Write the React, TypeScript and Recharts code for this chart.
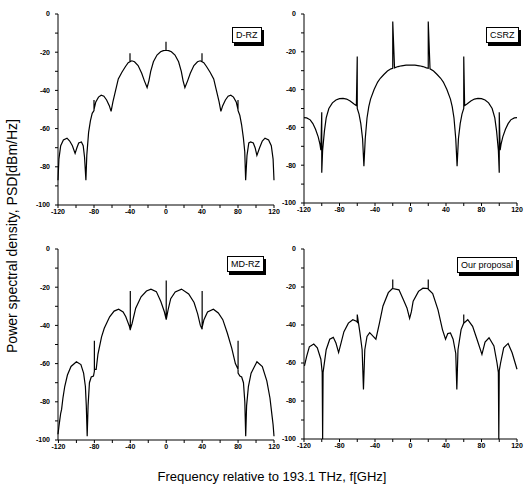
import React from 'react';
import { LineChart, Line, XAxis, YAxis } from 'recharts';

// frequency offsets (GHz) and PSD (dBm/Hz)
const drzFreq = [
  -120, -119, -117, -114, -110, -107, -104, -101, -99, -97, -94, -92, -90.5, -89, -88, -86, -84, -82, -80, -80, -80,
  -78, -75, -72, -69, -66, -63, -61, -59, -56, -53, -49, -45, -42, -40, -40, -40, -38, -35, -31, -27, -24, -21, -19,
  -17, -14, -10, -6, -3, 0, 0, 0, 3, 6, 10, 14, 17, 19, 21, 24, 27, 31, 35, 38, 40, 40, 40, 42, 45, 49, 53, 56, 59,
  61, 63, 66, 69, 72, 75, 78, 80, 80, 80, 82, 84, 86, 87.5, 88.5, 90, 92, 94, 97, 99, 101, 104, 107, 110, 114, 117,
  119, 120,
];
const drzPsd = [
  -87, -76, -69, -66, -65, -66.5, -69, -73, -70, -67.5, -67, -69, -75, -87, -74, -62, -56, -52, -50.5, -45, -50,
  -46, -43.5, -42.5, -43, -45, -48, -51, -46, -40, -34, -30.5, -27.5, -25.5, -25, -20.5, -25, -24.5, -25, -27, -31,
  -35, -38.5, -35, -30, -25, -21.5, -19.8, -19.2, -19, -14.5, -19, -19.2, -19.8, -21.5, -25, -30, -35, -38.5, -35,
  -31, -27, -25, -24.5, -25, -20.5, -25, -25.5, -27.5, -30.5, -34, -40, -46, -51, -48, -45, -43, -42.5, -43.5, -46,
  -50, -45, -50.5, -53, -58, -65, -72, -87, -74, -67.5, -67, -67.5, -70, -74, -70, -66.5, -65, -66, -69, -76, -87,
];

const csrzFreq = [
  -120, -117, -113, -110, -107, -104, -102, -101, -100, -100, -99, -97, -95, -92, -88, -84, -80, -76, -72, -68, -64,
  -61, -60, -60, -58, -56, -54, -52.5, -51, -49, -47, -45, -41, -37, -34, -30, -26, -22, -20, -20, -18, -14, -10,
  -5, 0, 5, 10, 14, 18, 20, 20, 22, 26, 30, 34, 37, 41, 45, 47, 49, 51, 52.5, 54, 56, 58, 60, 60, 61, 64, 68, 72,
  76, 80, 84, 88, 92, 95, 97, 99, 100, 100, 101, 102, 104, 107, 110, 113, 117, 120,
];
const csrzPsd = [
  -54.8, -55, -56, -58, -61, -65, -69, -72, -52, -84, -72, -62, -55, -50, -47, -45.5, -44.8, -44.6, -45, -46, -47.5,
  -48.5, -22.5, -50, -53, -58, -66, -80.5, -66, -55, -49, -45, -40, -36, -34, -32, -30.2, -29, -28.7, -4, -28.5,
  -27.8, -27.4, -27.1, -27, -27.1, -27.4, -27.8, -28.5, -28.7, -4, -29, -30.2, -32, -34, -36, -40, -45, -49, -55,
  -66, -80.5, -66, -58, -53, -50, -22.5, -48.5, -47.5, -46, -45, -44.6, -44.8, -45.5, -47, -50, -55, -62, -72, -84,
  -52, -72, -69, -65, -61, -58, -56, -55, -54.8,
];

const mdrzFreq = [
  -120.5, -119.5, -118.5, -117.5, -116.5, -115, -113, -110, -106, -100, -95, -92, -90, -89, -88, -87, -85.5, -83.5,
  -81, -80, -80, -80, -78, -76, -72, -69, -63, -58, -53, -48, -45, -41, -40, -40, -40, -38, -34, -28, -22, -17, -11,
  -6, -2, 0, 0, 0, 2, 5, 10, 17, 25, 31, 35, 38, 40, 40, 40, 42, 46, 52.5, 58, 63, 68, 73, 77, 80, 80, 80, 82, 84,
  86, 87.5, 88.5, 89.5, 91.5, 94.5, 101, 107, 112, 115.5, 118, 119, 120,
];
const mdrzPsd = [
  -97, -93, -89.5, -86, -84, -78, -72, -66, -61.5, -59, -60.5, -65, -72, -82, -98, -82, -70, -67, -66.5, -64, -48,
  -63, -63, -55, -46, -41.5, -35.5, -32.5, -31.5, -33, -35.5, -40.5, -42.5, -22, -42, -39, -31, -25, -22, -21,
  -22.3, -27.5, -33, -37, -16.5, -37, -32, -26, -22.5, -21, -23.5, -28, -34, -40, -42, -22, -41, -37, -33, -31.5,
  -33.5, -37, -44, -52, -60, -63, -48, -65, -66.5, -67, -70, -80, -98, -82, -72, -65, -59, -61.5, -69, -78, -88,
  -92, -98,
];

const propFreq = [
  -119.5, -117, -114, -109, -105, -101, -99.5, -99, -98.5, -97.5, -95, -91, -87, -84, -81, -78, -75, -70, -65, -61,
  -60, -60, -57, -54.5, -53, -51.5, -49, -46, -42, -39, -35, -31, -25, -20, -20, -20, -13, -8, -4, -1, 1, 3, 9, 14,
  20, 20, 20, 25, 31, 36, 39.5, 42, 45, 48, 51, 52.2, 53.5, 57, 60, 60, 60, 64.5, 70, 75, 80.5, 84, 88.5, 94, 97.5,
  99, 99.5, 100, 101.5, 105, 110, 114.5, 120,
];
const propPsd = [
  -61.5, -56.5, -51.5, -50, -52, -58, -65, -100, -65, -61.5, -53, -47.5, -46.5, -49.5, -54.5, -49, -43.5, -39,
  -37.2, -38, -38.5, -34.5, -44, -53, -74, -53, -46, -44, -46, -47.5, -39, -30, -23, -20.6, -16, -20.8, -21.5,
  -26.7, -31, -36.5, -33, -27.5, -22.3, -20.6, -20.8, -16, -21.2, -23.5, -32, -42.4, -47.5, -44.5, -44.2, -47.5,
  -55, -74, -53, -42.4, -39, -34.5, -39, -37.2, -40.7, -47.6, -55.5, -49, -46.7, -51, -60, -65, -100, -64, -60,
  -52, -49.7, -54.6, -63.3,
];

const xTicks = [-120, -100, -80, -60, -40, -20, 0, 20, 40, 60, 80, 100, 120];
const yTicks = [0, -10, -20, -30, -40, -50, -60, -70, -80, -90, -100];

const toRows = (freq: number[], psd: number[]) => freq.map((f, i) => ({ f, p: psd[i] }));

const tickStyle = { fontSize: 7, fontWeight: 'bold', fontFamily: 'Arial, sans-serif', fill: '#000' } as const;

function Panel({ freq, psd, left, top, w, h }: { freq: number[]; psd: number[]; left: number; top: number; w: number; h: number }) {
  return (
    <div style={{ position: 'absolute', left: left - 40, top: top - 10 }}>
      <LineChart width={w + 50} height={h + 30} data={toRows(freq, psd)} margin={{ top: 10, right: 10, bottom: 0, left: 10 }}>
        <XAxis
          dataKey="f"
          type="number"
          domain={[-120, 120]}
          ticks={xTicks}
          interval={0}
          tickFormatter={(v: number) => (v % 40 === 0 ? String(v) : '')}
          height={20}
          tickSize={3}
          tickMargin={1}
          tick={tickStyle}
          axisLine={{ stroke: '#000' }}
          tickLine={{ stroke: '#000' }}
        />
        <YAxis
          type="number"
          domain={[-100, 0]}
          ticks={yTicks}
          interval={0}
          tickFormatter={(v: number) => (v % 20 === 0 ? String(v) : '')}
          width={30}
          tickSize={3}
          tickMargin={5}
          tick={tickStyle}
          axisLine={{ stroke: '#000' }}
          tickLine={{ stroke: '#000' }}
        />
        <Line dataKey="p" type="linear" stroke="#000" strokeWidth={1.2} dot={false} isAnimationActive={false} />
      </LineChart>
    </div>
  );
}

function Tag({ text, left, top }: { text: string; left: number; top: number }) {
  return (
    <div
      style={{
        position: 'absolute',
        left,
        top,
        border: '1px solid #000',
        background: '#fff',
        boxShadow: '2px 3px 0 #000',
        fontFamily: 'Arial, sans-serif',
        fontSize: 9,
        lineHeight: '12px',
        padding: '1px 3px',
        whiteSpace: 'nowrap',
      }}
    >
      {text}
    </div>
  );
}

export default function App() {
  return (
    <div style={{ position: 'absolute', left: 0, top: 0, width: 524, height: 491, background: '#fff', overflow: 'hidden' }}>
      <Panel freq={drzFreq} psd={drzPsd} left={58} top={14} w={216} h={191} />
      <Panel freq={csrzFreq} psd={csrzPsd} left={304} top={14} w={213} h={189} />
      <Panel freq={mdrzFreq} psd={mdrzPsd} left={58} top={249} w={216} h={191} />
      <Panel freq={propFreq} psd={propPsd} left={304} top={249} w={213} h={190} />

      <Tag text="D-RZ" left={232} top={27} />
      <Tag text="CSRZ" left={486} top={27} />
      <Tag text="MD-RZ" left={227} top={256} />
      <Tag text="Our proposal" left={457} top={257} />

      <div
        style={{
          position: 'absolute',
          left: 12,
          top: 236,
          transform: 'translate(-50%, -50%) rotate(-90deg)',
          whiteSpace: 'nowrap',
          fontFamily: 'Arial, sans-serif',
          fontSize: 14,
        }}
      >
        Power spectral density, PSD[dBm/Hz]
      </div>
      <div
        style={{
          position: 'absolute',
          left: 272,
          top: 476,
          transform: 'translate(-50%, -50%)',
          whiteSpace: 'nowrap',
          fontFamily: 'Arial, sans-serif',
          fontSize: 13,
        }}
      >
        Frequency relative to 193.1 THz, f[GHz]
      </div>
    </div>
  );
}
